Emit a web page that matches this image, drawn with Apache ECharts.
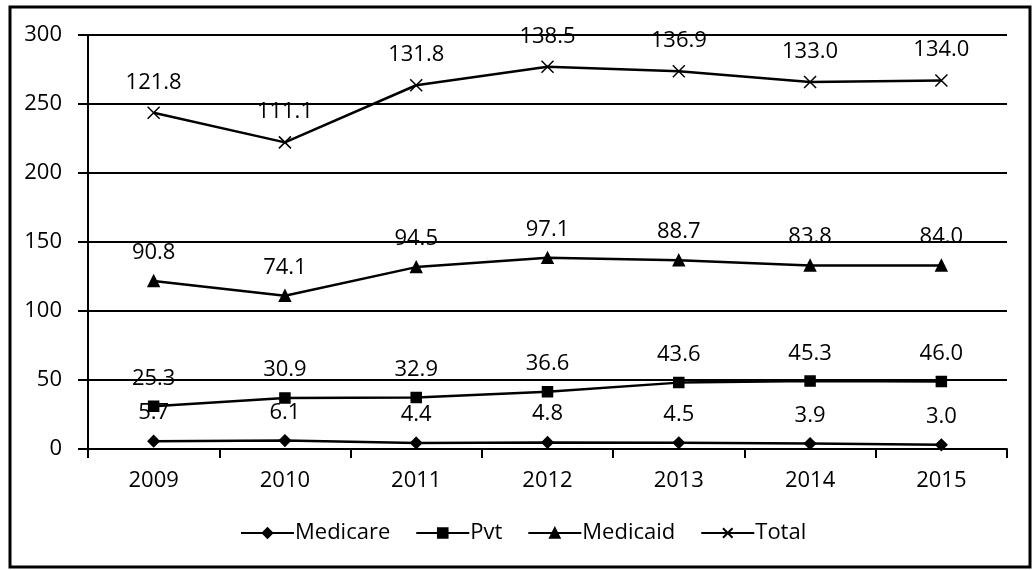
<!DOCTYPE html>
<html><head><meta charset="utf-8">
<script src="https://cdn.jsdelivr.net/npm/echarts@6/dist/echarts.min.js"></script>
<style>html,body{margin:0;padding:0;background:#fff}#c{width:1034px;height:570px}</style>
</head><body><div id="c"></div>
<script>
const years = ['2009','2010','2011','2012','2013','2014','2015'];
const medicare = [5.7, 6.1, 4.4, 4.8, 4.5, 3.9, 3.0];
const pvt = [25.3, 30.9, 32.9, 36.6, 43.6, 45.3, 46.0];
const medicaid = [90.8, 74.1, 94.5, 97.1, 88.7, 83.8, 84.0];
const total = [121.8, 111.1, 131.8, 138.5, 136.9, 133.0, 134.0];
const yTicks = [0, 50, 100, 150, 200, 250, 300];

const FONT = 'Open Sans';
const chart = echarts.init(document.getElementById('c'));
function mk(name, data, symbol, size, extra) {
  return Object.assign({
    name, type: 'line', data, stack: 'all', symbol, symbolSize: size,
    lineStyle: {color: '#000', width: 2.5},
    itemStyle: {color: '#000', borderColor: '#000', borderWidth: 1.5},
    label: {show: true, position: 'top', distance: 11, color: '#000', fontFamily: FONT, fontSize: 22,
      formatter: p => p.value.toFixed(1)},
    animation: false
  }, extra || {});
}
chart.setOption({
  backgroundColor: '#fff',
  animation: false,
  grid: {left: 88, right: 27, top: 35, bottom: 121},
  legend: {
    left: 235, top: 517, itemWidth: 53, itemHeight: 12, itemGap: 25,
    textStyle: {fontFamily: FONT, fontSize: 22, color: '#000', padding: [0,0,0,-4]},
    data: ['Medicare', 'Pvt', 'Medicaid', 'Total']
  },
  xAxis: {
    type: 'category', data: years, boundaryGap: true,
    axisLine: {lineStyle: {color: '#000', width: 2}},
    axisTick: {show: true, length: 9, lineStyle: {color: '#000', width: 2}},
    axisLabel: {fontFamily: FONT, fontSize: 22, color: '#000', margin: 21}
  },
  yAxis: {
    type: 'value', min: yTicks[0], max: yTicks[yTicks.length-1], interval: 50,
    axisLine: {show: true, lineStyle: {color: '#000', width: 2}},
    axisTick: {show: true, length: 10, lineStyle: {color: '#000', width: 2}},
    splitLine: {lineStyle: {color: '#000', width: 2}},
    axisLabel: {fontFamily: FONT, fontSize: 22, color: '#000', margin: 26}
  },
  graphic: [{type: 'rect', shape: {x: 10, y: 7, width: 1020, height: 560},
    style: {fill: 'none', stroke: '#000', lineWidth: 3}, silent: true}],
  series: [
    mk('Medicare', medicare, 'diamond', 11),
    mk('Pvt', pvt, 'rect', 10),
    mk('Medicaid', medicaid, 'triangle', 11),
    mk('Total', total, 'path://M0,0L10,10M10,0L0,10', 12,
      {itemStyle: {color: 'none', borderColor: '#000', borderWidth: 1.5}})
  ]
});
</script></body></html>
